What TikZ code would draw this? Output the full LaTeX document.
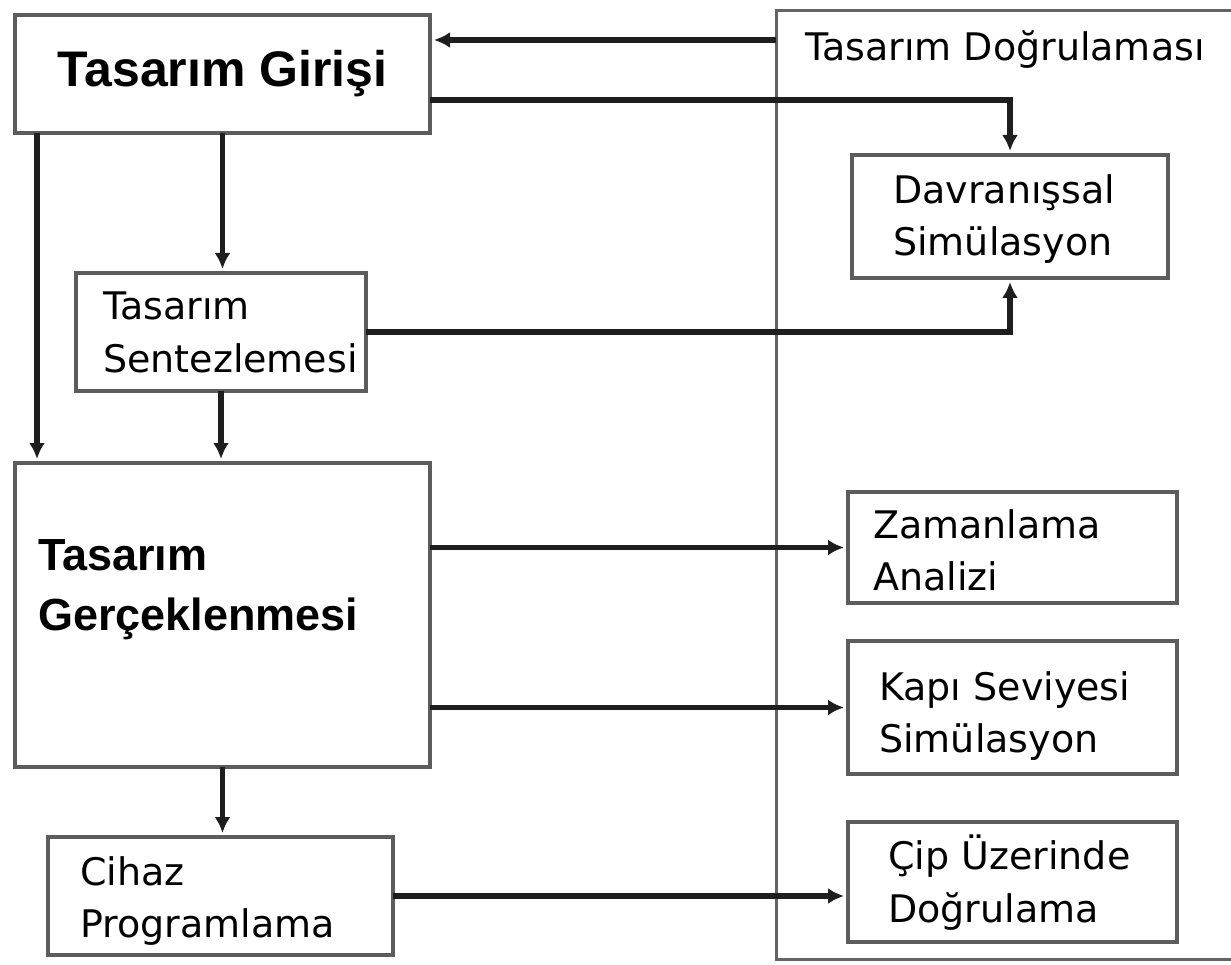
\documentclass[tikz,border=0pt]{standalone}
\usepackage{fontspec}
\setmainfont{DejaVu Sans}
\newfontfamily\headfont{Liberation Sans}
\usetikzlibrary{arrows.meta}

\definecolor{boxgray}{RGB}{92,92,92}
\definecolor{framegray}{RGB}{100,100,100}
\definecolor{linedark}{RGB}{30,30,30}

\begin{document}
\begin{tikzpicture}[x=1pt,y=-1pt,
  box/.style={draw=boxgray, line width=4pt, rectangle, inner sep=0pt, outer sep=0pt},
  conn/.style={draw=linedark, line width=5.5pt, -{Latex[length=16pt,width=16pt]}, shorten >=4pt},
  txt/.style={inner sep=0pt, align=left, font=\fontsize{38}{52.5}\selectfont},
  head/.style={inner sep=0pt, align=left, font=\headfont\bfseries\fontsize{45}{60}\selectfont}]

\useasboundingbox (0,0) rectangle (1231,965);
\clip (0,0) rectangle (1231,965);

% verification frame on the right, open past the right margin
\node[rectangle, inner sep=0pt, outer sep=0pt, minimum width=455pt, minimum height=948pt,
      anchor=north west] (verif) at (776,11) {};
\draw[framegray, line width=3pt] ([xshift=20pt]verif.north east) -- (verif.north west)
      -- (verif.south west) -- ([xshift=20pt]verif.south east);
\node[txt, anchor=base west] (verifT) at (805,61) {Tasarım Doğrulaması};

% left column
\node[box, minimum width=415pt, minimum height=118pt,
      font=\headfont\bfseries\fontsize{50}{60}\selectfont] (giris) at (222.5,74) {Tasarım Girişi};
\node[box, minimum width=290pt, minimum height=118pt] (sent) at (221,332) {};
\node[box, minimum width=415pt, minimum height=304pt] (gerc) at (222.5,615) {};
\node[box, minimum width=345pt, minimum height=118pt] (cihaz) at (220.5,896) {};

% right column
\node[box, minimum width=316pt, minimum height=123pt] (davr) at (1010,216.5) {};
\node[box, minimum width=329pt, minimum height=111pt] (zaman) at (1012.5,547.5) {};
\node[box, minimum width=329pt, minimum height=133pt] (kapi) at (1012.5,707.5) {};
\node[box, minimum width=329pt, minimum height=120pt] (cip) at (1012.5,882) {};

% box labels
\node[txt, anchor=north west] (sentT) at (103,292) {Tasarım\\Sentezlemesi};
\node[head, anchor=north west] (gercT) at (38,539) {Tasarım\\Gerçeklenmesi};
\node[txt, anchor=north west] (cihazT) at (80,856) {Cihaz\\Programlama};
\node[txt, anchor=north west] (davrT) at (893,174) {Davranışsal\\Simülasyon};
\node[txt, anchor=north west] (zamanT) at (873,509) {Zamanlama\\Analizi};
\node[txt, anchor=north west] (kapiT) at (879,671) {Kapı Seviyesi\\Simülasyon};
\node[txt, anchor=north west] (cipT) at (888,835) {Çip Üzerinde\\Doğrulama};

% connectors
\coordinate (gTop) at ([yshift=-25pt]giris.north east);
\coordinate (gOut) at ([yshift=-26pt]giris.east);
\coordinate (gLeft) at ([xshift=22pt]giris.south west);

\draw[conn] (verif.west |- gTop) -- (gTop);
\draw[conn] (gOut) -| (davr.north);
\draw[conn] (sent.east) -| (davr.south);
\draw[conn] (gLeft) -- (gLeft |- gerc.north);
\draw[conn] (giris.south) -- (giris.south |- sent.north);
\draw[conn] (sent.south) -- (sent.south |- gerc.north);
\draw[conn] (gerc.south) -- (gerc.south |- cihaz.north);
\draw[conn] (gerc.east |- zaman.west) -- (zaman.west);
\draw[conn] (gerc.east |- kapi.west) -- (kapi.west);
\draw[conn] (cihaz.east) -- (cihaz.east -| cip.west);
\end{tikzpicture}
\end{document}
